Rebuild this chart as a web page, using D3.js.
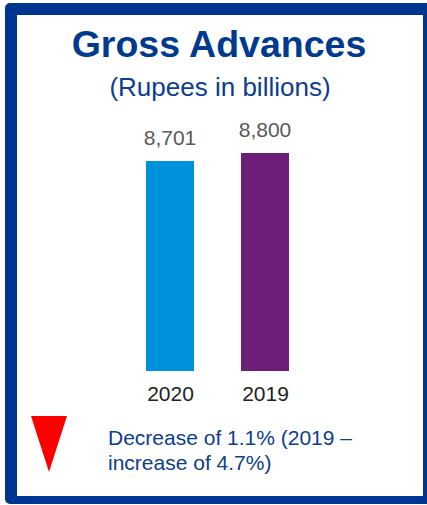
<!DOCTYPE html>
<html>
<head>
<meta charset="utf-8">
<script src="https://cdn.jsdelivr.net/npm/d3@7"></script>
<style>
  html, body { margin: 0; padding: 0; background: #fff; }
  svg { display: block; font-family: "Liberation Sans", Arial, sans-serif; }
</style>
</head>
<body>
<script>
// Gross advances, rupees in billions
const categories = ["2020", "2019"];
const values = [8701, 8800];
const valueLabels = ["8,701", "8,800"];
const barColors = ["#0091da", "#6d1f77"];
const titleText = "Gross Advances";
const subtitleText = "(Rupees in billions)";
const noteLines = ["Decrease of 1.1% (2019 \u2013", "increase of 4.7%)"];

const W = 427, H = 505;
const navy = "#003591";

const svg = d3.select("body").append("svg")
  .attr("width", W).attr("height", H);

// Framed panel
svg.append("rect")
  .attr("x", 5).attr("y", 3).attr("width", 430).attr("height", 501)
  .attr("rx", 5).attr("fill", navy);
svg.append("rect")
  .attr("x", 17).attr("y", 15).attr("width", 406).attr("height", 481)
  .attr("fill", "#fff");

// Titles
svg.append("text")
  .attr("x", 219).attr("y", 57)
  .attr("text-anchor", "middle")
  .attr("font-size", 37.5).attr("font-weight", "bold")
  .attr("fill", "#003a8f")
  .text(titleText);
svg.append("text")
  .attr("x", 220).attr("y", 96)
  .attr("text-anchor", "middle")
  .attr("font-size", 26)
  .attr("fill", "#0b3d91")
  .text(subtitleText);

// Scales: value axis starts above zero, as in the source chart
const barW = 48;
const xc = d3.scalePoint().domain(categories).range([170, 265]);
const y = d3.scaleLinear().domain([6100, 8800]).range([371, 153]);

const bars = svg.append("g");
bars.selectAll("rect")
  .data(categories)
  .join("rect")
  .attr("x", d => xc(d) - barW / 2)
  .attr("width", barW)
  .attr("y", (d, i) => y(values[i]))
  .attr("height", (d, i) => y.range()[0] - y(values[i]))
  .attr("fill", (d, i) => barColors[i]);

// Value labels
bars.selectAll("text.val")
  .data(categories)
  .join("text")
  .attr("class", "val")
  .attr("x", d => xc(d))
  .attr("y", (d, i) => y(values[i]) - 16)
  .attr("text-anchor", "middle")
  .attr("font-size", 21)
  .attr("fill", "#595959")
  .text((d, i) => valueLabels[i]);

// Category axis (labels only)
const axis = svg.append("g")
  .attr("transform", `translate(0,${y.range()[0]})`)
  .call(d3.axisBottom(xc).tickSize(0).tickPadding(0));
axis.select(".domain").remove();
axis.selectAll("text")
  .attr("dy", null)
  .attr("y", 30)
  .attr("font-size", 21)
  .attr("font-family", "Liberation Sans, Arial, sans-serif")
  .attr("fill", "#222");

// Decrease marker
svg.append("path")
  .attr("d", d3.line()([[31, 416], [67, 416], [49, 472]]) + "Z")
  .attr("fill", "#ff0000");

const note = svg.append("text")
  .attr("font-size", 21)
  .attr("fill", "#0b3d91");
note.selectAll("tspan")
  .data(noteLines)
  .join("tspan")
  .attr("x", 108)
  .attr("y", (d, i) => 445 + i * 25)
  .text(d => d);
</script>
</body>
</html>
